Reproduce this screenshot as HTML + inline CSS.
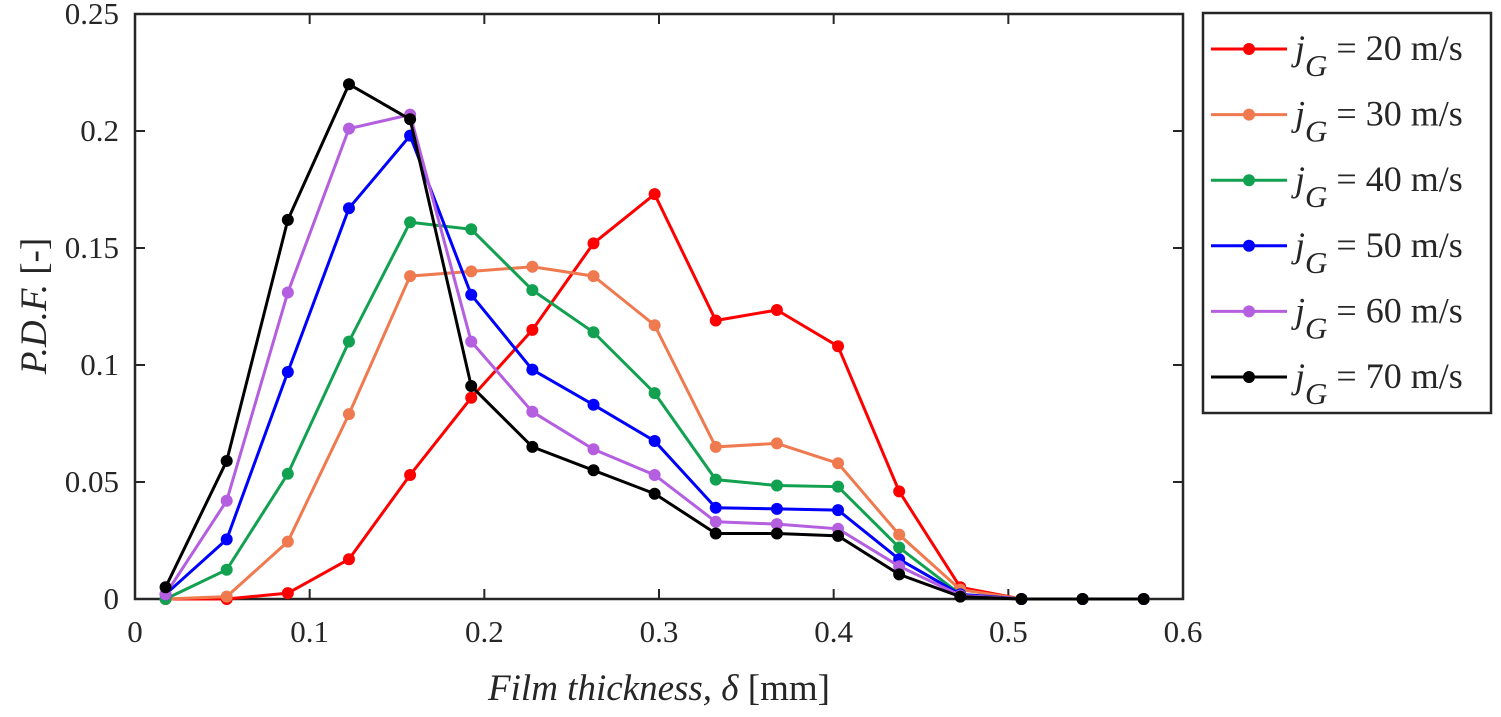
<!DOCTYPE html>
<html><head><meta charset="utf-8"><style>
body{margin:0;background:#fff;}
svg text{font-family:"Liberation Serif",serif;fill:#262626;}
</style></head><body>
<svg id="chart" width="1501" height="712"></svg>
<script>
const xs=[0.0175,0.0525,0.0875,0.1225,0.1575,0.1925,0.2275,0.2625,0.2975,0.3325,0.3675,0.4025,0.4375,0.4725,0.5075,0.5425,0.5775];
const s20=[0,0,0.0025,0.017,0.053,0.086,0.115,0.152,0.173,0.119,0.1235,0.108,0.046,0.005,0,0,0];
const s30=[0,0.001,0.0245,0.079,0.138,0.140,0.142,0.138,0.117,0.065,0.0665,0.058,0.0275,0.004,0,0,0];
const s40=[0,0.0125,0.0535,0.110,0.161,0.158,0.132,0.114,0.088,0.051,0.0485,0.048,0.022,0.002,0,0,0];
const s50=[0.002,0.0255,0.097,0.167,0.198,0.130,0.098,0.083,0.0675,0.039,0.0385,0.038,0.017,0.002,0,0,0];
const s60=[0.002,0.042,0.131,0.201,0.207,0.110,0.080,0.064,0.053,0.033,0.032,0.030,0.014,0.0015,0,0,0];
const s70=[0.005,0.059,0.162,0.220,0.205,0.091,0.065,0.055,0.045,0.028,0.028,0.027,0.0105,0.001,0,0,0];
const seriesLabels=["20","30","40","50","60","70"];
const xTicks=[0,0.1,0.2,0.3,0.4,0.5,0.6];
const yTicks=[0,0.05,0.1,0.15,0.2,0.25];
const yTickLabels=["0","0.05","0.1","0.15","0.2","0.25"];

const svg=document.getElementById('chart');
const NS='http://www.w3.org/2000/svg';
const L=135,R=1183,T=14,B=599;
const X=v=>L+(v-0)/(0.6)*(R-L);
const Y=v=>B-(v/0.25)*(B-T);
function el(tag,attrs,parent){const e=document.createElementNS(NS,tag);for(const k in attrs)e.setAttribute(k,attrs[k]);(parent||svg).appendChild(e);return e;}
const colors=['#ff0000','#f07a4f','#12a150','#0000ff','#b45ee0','#000000'];
const data=[s20,s30,s40,s50,s60,s70];

const frame=el('rect',{x:L,y:T,width:R-L,height:B-T,fill:'none',stroke:'#262626','stroke-width':2.5});



xTicks.forEach(t=>{
  el('line',{x1:X(t),x2:X(t),y1:B,y2:B-10,stroke:'#262626','stroke-width':2});
  el('line',{x1:X(t),x2:X(t),y1:T,y2:T+10,stroke:'#262626','stroke-width':2});
  const tx=el('text',{x:X(t),y:B+43,'text-anchor':'middle','font-size':31});
  tx.textContent=String(t);
  
  
});
yTicks.forEach((t,i)=>{
  el('line',{x1:L,x2:L+10,y1:Y(t),y2:Y(t),stroke:'#262626','stroke-width':2});
  el('line',{x1:R,x2:R-10,y1:Y(t),y2:Y(t),stroke:'#262626','stroke-width':2});
  const tx=el('text',{x:L-16,y:Y(t)+10,'text-anchor':'end','font-size':31});
  tx.textContent=yTickLabels[i];
  
  
});

data.forEach((s,k)=>{
  const g=el('g',{});
  
  
  el('polyline',{points:s.map((v,i)=>X(xs[i])+','+Y(v)).join(' '),fill:'none',stroke:colors[k],'stroke-width':3},g);
  s.forEach((v,i)=>{
    const c=el('circle',{cx:X(xs[i]),cy:Y(v),r:6,fill:colors[k]},g);
    
    
  });
});

const xt=el('text',{x:659,y:700,'text-anchor':'middle','font-size':37});
xt.innerHTML='<tspan font-style="italic">Film thickness, δ</tspan> [mm]';


const yt=el('text',{x:0,y:0,'text-anchor':'middle','font-size':37,transform:'translate(46,306) rotate(-90)'});
yt.innerHTML='<tspan font-style="italic">P.D.F.</tspan> [-]';



const lg=el('g',{});


el('rect',{x:1203,y:13,width:288,height:400,fill:'#fff',stroke:'#262626','stroke-width':2.5},lg);
seriesLabels.forEach((s,k)=>{
  const y=49+k*65.6;
  const e=el('g',{},lg);
  
  
  el('line',{x1:1211,x2:1287,y1:y,y2:y,stroke:colors[k],'stroke-width':3},e);
  el('circle',{cx:1249,cy:y,r:6,fill:colors[k]},e);
  const t=el('text',{x:1295,y:y+11,'font-size':36},e);
  t.innerHTML='<tspan font-style="italic">j</tspan><tspan font-style="italic" font-size="31" dy="16">G</tspan><tspan dy="-16"> = '+s+' m/s</tspan>';
});
</script>
</body></html>
